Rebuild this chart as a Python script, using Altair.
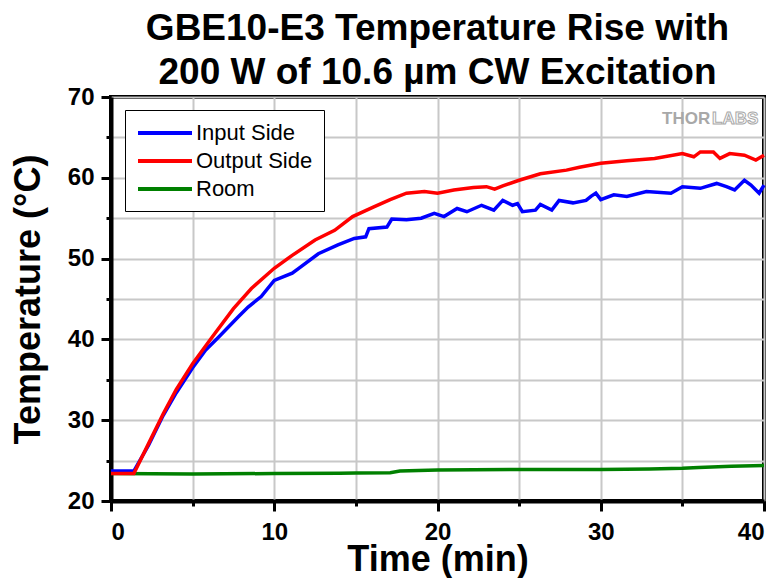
import altair as alt
import pandas as pd

# ---- data ----
series_names = ["Input Side", "Output Side", "Room"]
series_colors = ["#0000ff", "#ff0000", "#008000"]

output_t = [0, 1.4, 2.3, 3.2, 4.0, 5.0, 6.2, 7.5, 8.6, 10.0, 11.1, 12.5, 13.7, 14.8,
            16.1, 17.1, 18.1, 19.2, 20.0, 21.0, 22.2, 23.0, 23.5, 24.0, 25.0, 26.3,
            27.9, 28.7, 30.0, 31.6, 33.3, 35.0, 35.7, 36.1, 36.9, 37.3, 37.9, 38.8,
            39.5, 40.0]
output_T = [23.4, 23.4, 27.1, 30.8, 33.8, 37.0, 40.3, 43.8, 46.3, 48.8, 50.4, 52.3, 53.5, 55.2,
            56.4, 57.3, 58.1, 58.3, 58.1, 58.5, 58.8, 58.9, 58.6, 59.0, 59.7, 60.5,
            60.95, 61.3, 61.8, 62.1, 62.4, 63.0, 62.6, 63.2, 63.2, 62.4, 63.0, 62.8,
            62.2, 62.8]

input_t = [0, 1.4, 2.3, 3.2, 4.0, 5.0, 5.8, 6.6, 7.8, 8.4, 9.2, 10.0, 11.1, 11.5, 12.7,
           13.9, 14.9, 15.6, 15.8, 16.9, 17.2, 18.1, 19.0, 19.8, 20.4, 21.2, 21.8, 22.7,
           23.45, 24.0, 24.6, 24.9, 25.2, 26.0, 26.3, 27.0, 27.45, 28.3, 29.1, 29.4,
           29.7, 30.0, 30.8, 31.6, 32.8, 34.3, 35.0, 36.1, 37.1, 37.7, 38.2, 38.8,
           39.2, 39.7, 40.0]
input_T = [23.7, 23.7, 26.9, 30.6, 33.4, 36.5, 38.7, 40.3, 42.8, 44.0, 45.3, 47.3, 48.2, 48.8, 50.6,
           51.7, 52.5, 52.7, 53.7, 53.9, 54.9, 54.8, 55.0, 55.6, 55.2, 56.2, 55.8, 56.6,
           56.0, 57.2, 56.6, 56.8, 55.8, 56.0, 56.7, 56.0, 57.2, 56.9, 57.2, 57.7,
           58.1, 57.3, 57.9, 57.7, 58.3, 58.1, 58.9, 58.7, 59.3, 58.9, 58.5, 59.7,
           59.1, 58.1, 59.1]

room_t = [0, 5, 10, 14, 15, 17.1, 17.7, 20, 25, 30, 33, 35, 36, 38, 40]
room_T = [23.4, 23.35, 23.4, 23.43, 23.45, 23.5, 23.7, 23.85, 23.9, 23.9, 23.95, 24.05,
          24.15, 24.3, 24.4]

x_ticks = [0, 5, 10, 15, 20, 25, 30, 35, 40]
y_ticks = [20, 25, 30, 35, 40, 45, 50, 55, 60, 65, 70]

title_lines = ["GBE10-E3 Temperature Rise with", "200 W of 10.6 µm CW Excitation"]

rows = []
for name, ts, vs in [("Room", room_t, room_T),
                     ("Input Side", input_t, input_T),
                     ("Output Side", output_t, output_T)]:
    for t, v in zip(ts, vs):
        rows.append({"series": name, "time": t, "temp": v})
df = pd.DataFrame(rows)

FONT = "Liberation Sans"
major10 = "datum.value % 10 === 0"

lines = alt.Chart(df).mark_line(strokeWidth=3.5).encode(
    x=alt.X("time:Q",
            scale=alt.Scale(domain=[0, 40], nice=False),
            axis=alt.Axis(values=x_ticks, title="Time (min)",
                          labelExpr=f"{major10} ? datum.label : ''",
                          tickSize={"condition": {"test": major10, "value": 10}, "value": 5},
                          labelPadding=9, titleBaseline="alphabetic", titleY=69)),
    y=alt.Y("temp:Q",
            scale=alt.Scale(domain=[20, 70], nice=False, zero=False),
            axis=alt.Axis(values=y_ticks, title="Temperature (°C)",
                          labelExpr=f"{major10} ? datum.label : ''",
                          tickSize={"condition": {"test": major10, "value": 10}, "value": 5},
                          labelPadding=7, titlePadding=20)),
    color=alt.Color("series:N",
                    scale=alt.Scale(domain=series_names, range=series_colors),
                    legend=alt.Legend(title=None, orient="none", legendX=14, legendY=13,
                                      fillColor="white", strokeColor="black", padding=11,
                                      symbolType="M-1,0H4.4", symbolSize=400,
                                      symbolStrokeWidth=4, labelOffset=36,
                                      labelFont=FONT, labelFontSize=22,
                                      labelFontWeight="normal", labelColor="black",
                                      rowPadding=5)),
)

logo_src = pd.DataFrame({"k": [0]})
logo_thor = alt.Chart(logo_src).mark_text(
    text="THOR", font=FONT, fontSize=17, fontWeight="bold", fill="#a8a8a8",
    align="left", baseline="alphabetic"
).encode(x=alt.value(551), y=alt.value(27))
logo_labs = alt.Chart(logo_src).mark_text(
    text="LABS", font=FONT, fontSize=17, fontWeight="bold", fill="white",
    stroke="#a8a8a8", strokeWidth=1, align="left", baseline="alphabetic"
).encode(x=alt.value(601), y=alt.value(27))

chart = alt.layer(lines, logo_thor, logo_labs).properties(
    width=653, height=404, background="white",
    title=alt.TitleParams(text=title_lines, font=FONT, fontSize=37, fontWeight="bold",
                          color="black", lineHeight=44, anchor="middle",
                          baseline="top", offset=-7),
    autosize=alt.AutoSizeParams(type="none"),
    padding={"left": 103, "top": 89, "right": 8, "bottom": 77},
).configure_view(
    stroke="black", strokeWidth=4
).configure_axis(
    domainColor="black", domainWidth=4, tickColor="black", tickWidth=3,
    gridColor="#c8c8c8", gridWidth=2,
    labelFont=FONT, labelFontSize=24, labelFontWeight="bold", labelColor="black",
    titleFont=FONT, titleFontSize=36, titleFontWeight="bold", titleColor="black",
)

chart.save("out.html", embed_options={"renderer": "svg", "actions": False})
